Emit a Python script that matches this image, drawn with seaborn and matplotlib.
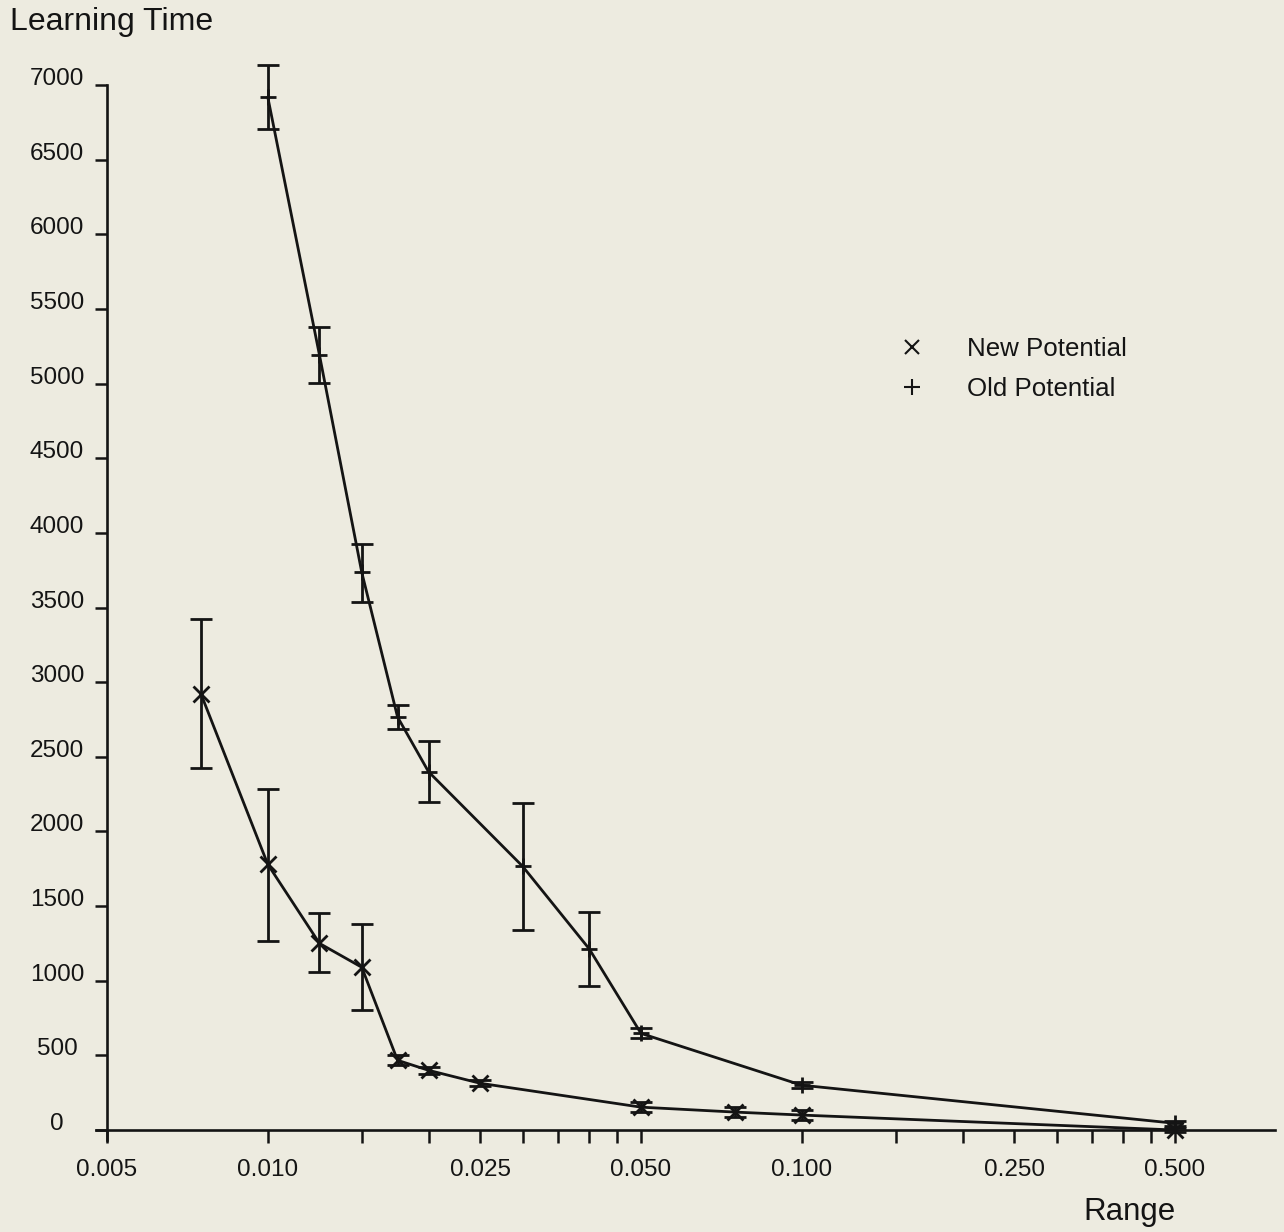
import matplotlib
matplotlib.use("Agg")
import matplotlib.pyplot as plt
from matplotlib.lines import Line2D
import numpy as np
import pandas as pd
import seaborn as sns

# ---- data ----
range_new = [0.0075, 0.010, 0.0125, 0.015, 0.0175, 0.020, 0.025, 0.050, 0.075, 0.100, 0.500]
time_new = [2920, 1780, 1250, 1090, 467, 400, 313, 153, 120, 100, 0]
lo_new = [2427, 1267, 1060, 807, 433, 378, 293, 122, 88, 65, -15]
hi_new = [3420, 2287, 1453, 1380, 500, 422, 333, 185, 152, 135, 15]

range_old = [0.010, 0.0125, 0.015, 0.0175, 0.020, 0.030, 0.040, 0.050, 0.100, 0.500]
time_old = [6920, 5190, 3735, 2767, 2400, 1767, 1213, 647, 300, 45]
lo_old = [6707, 5007, 3540, 2687, 2200, 1340, 967, 613, 278, 30]
hi_old = [7133, 5380, 3927, 2847, 2607, 2193, 1460, 680, 322, 60]

series_names = ["New Potential", "Old Potential"]
major_ticks = [0.005, 0.010, 0.025, 0.050, 0.100, 0.250, 0.500]
major_labels = ["0.005", "0.010", "0.025", "0.050", "0.100", "0.250", "0.500"]
minor_ticks = [0.015, 0.020, 0.030, 0.035, 0.040, 0.045,
               0.150, 0.200, 0.300, 0.350, 0.400, 0.450]
y_ticks = list(range(0, 7001, 500))

# ---- style ----
sns.set_theme(style="ticks")
plt.rcParams["font.family"] = ["Liberation Sans", "DejaVu Sans"]
BG = "#EDEBE0"
INK = "#141414"

W, H = 1284, 1232
fig = plt.figure(figsize=(W / 100, H / 100), dpi=100, facecolor=BG)

# axes placement in pixels
x_left_px, x_right_px = 96, 1275
y0_px = 1130.0
px_per_unit = (1130 - 85) / 7000.0
ymin, ymax = -100, 7300
bot_px = y0_px - ymin * px_per_unit
top_px = y0_px - ymax * px_per_unit
ax = fig.add_axes([x_left_px / W, 1 - bot_px / H,
                   (x_right_px - x_left_px) / W, (bot_px - top_px) / H])
ax.set_facecolor(BG)
ax.set_xscale("log")

px_per_decade = (1175 - 107) / 2.0
xmin = 0.005 * 10 ** (-(107 - x_left_px) / px_per_decade)
xmax = 0.5 * 10 ** ((x_right_px - 1175) / px_per_decade)

df_new = pd.DataFrame({"range": range_new, "time": time_new})
df_old = pd.DataFrame({"range": range_old, "time": time_old})

line_kw = dict(color=INK, linewidth=2.0, markersize=12, markeredgewidth=2.0,
               markeredgecolor=INK, errorbar=None, legend=False, ax=ax)
sns.lineplot(data=df_new, x="range", y="time", marker="x", **line_kw)
sns.lineplot(data=df_old, x="range", y="time", marker="+", **line_kw)

err_kw = dict(fmt="none", ecolor=INK, elinewidth=2.0, capsize=8, capthick=2.0, zorder=3)
tn = np.array(time_new); to = np.array(time_old)
ax.errorbar(range_new, tn, yerr=[tn - np.array(lo_new), np.array(hi_new) - tn], **err_kw)
ax.errorbar(range_old, to, yerr=[to - np.array(lo_old), np.array(hi_old) - to], **err_kw)

ax.set_xlim(xmin, xmax)
ax.set_ylim(ymin, ymax)

# spines crossing at (0.005, 0)
for s in ["top", "right"]:
    ax.spines[s].set_visible(False)
ax.spines["left"].set_position(("data", 0.005))
ax.spines["left"].set_bounds(-70, 7000)
ax.spines["bottom"].set_position(("data", 0))
for s in ["left", "bottom"]:
    ax.spines[s].set_color(INK)
    ax.spines[s].set_linewidth(1.9)

ax.set_xticks(major_ticks)
ax.set_xticklabels(major_labels)
ax.set_xticks(minor_ticks, minor=True)
ax.xaxis.set_minor_formatter(matplotlib.ticker.NullFormatter())
ax.set_yticks(y_ticks)
ax.set_yticklabels([str(v) for v in y_ticks])

ax.tick_params(axis="x", which="both", direction="out", length=9, width=1.8,
               color=INK, labelsize=17.5, labelcolor=INK, pad=12)
ax.tick_params(axis="y", which="both", direction="out", length=9, width=1.8,
               color=INK, labelsize=17.5, labelcolor=INK, pad=27)
for lab in ax.get_yticklabels():
    lab.set_horizontalalignment("center")
    lab.set_verticalalignment("baseline")

ax.set_xlabel("")
ax.set_ylabel("")
fig.text(10 / W, 1 - 22 / H, "Learning Time", ha="left", va="center",
         fontsize=23, color=INK)
fig.text(1083 / W, 1 - 1212 / H, "Range", ha="left", va="center",
         fontsize=22.5, color=INK)

# legend (markers only, no frame)
handles = [Line2D([], [], linestyle="none", marker="x", color=INK,
                  markersize=10, markeredgewidth=1.5),
           Line2D([], [], linestyle="none", marker="+", color=INK,
                  markersize=11, markeredgewidth=1.5)]
leg = ax.legend(handles, series_names, loc="upper left",
                bbox_to_anchor=(899.5 / W, 1 - 337 / H), bbox_transform=fig.transFigure,
                frameon=False, fontsize=18.6, handlelength=1.0, handletextpad=1.6,
                borderpad=0, borderaxespad=0, labelspacing=0.62)
for t in leg.get_texts():
    t.set_color(INK)

fig.savefig("out.png", dpi=100, facecolor=BG)
